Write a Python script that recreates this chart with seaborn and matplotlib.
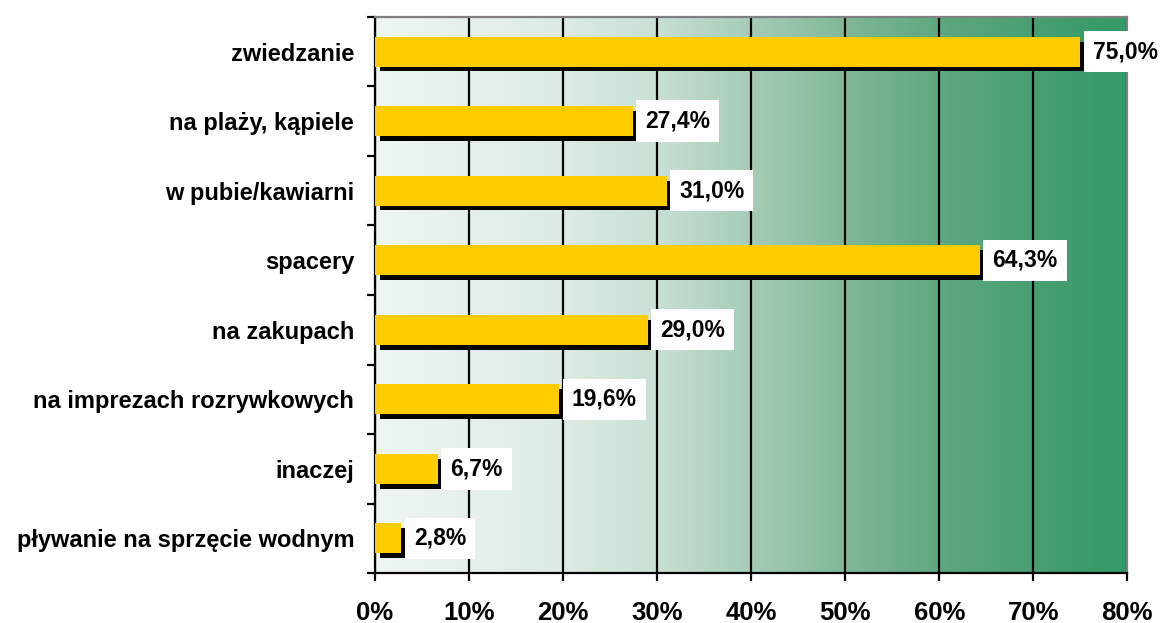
import numpy as np
import pandas as pd
import seaborn as sns
import matplotlib.pyplot as plt
from matplotlib import patheffects as pe
from matplotlib.colors import LinearSegmentedColormap

# data
categories = ["zwiedzanie", "na plaży, kąpiele", "w pubie/kawiarni", "spacery",
              "na zakupach", "na imprezach rozrywkowych", "inaczej",
              "pływanie na sprzęcie wodnym"]
values = [75.0, 27.4, 31.0, 64.3, 29.0, 19.6, 6.7, 2.8]
x_ticks = [0, 10, 20, 30, 40, 50, 60, 70, 80]

df = pd.DataFrame({"activity": categories, "share": values})

sns.set_style("white")
plt.rcParams["font.family"] = ["Liberation Sans", "DejaVu Sans"]
plt.rcParams["text.color"] = "black"
plt.rcParams["xtick.color"] = "black"
plt.rcParams["ytick.color"] = "black"

fig = plt.figure(figsize=(11.61, 6.23), dpi=100)
ax = fig.add_axes([0.323, 0.080, 0.648, 0.893])

# green gradient in the plot area
bg = LinearSegmentedColormap.from_list("bg", [
    (0.0, "#EEF6F2"), (0.125, "#E6F0EA"), (0.25, "#DDEBE3"), (0.375, "#C8E0D3"),
    (0.5, "#A5CCB7"), (0.625, "#80B898"), (0.75, "#5FA77F"), (0.875, "#489F72"),
    (1.0, "#339966")])
ax.imshow(np.linspace(0, 1, 256).reshape(1, -1), cmap=bg, aspect="auto",
          extent=[0, 80, 7.5, -0.5], zorder=0)

sns.barplot(data=df, x="share", y="activity", color="#FFCC00", saturation=1,
            width=0.43, ax=ax, zorder=3)
for bar in ax.patches:
    bar.set_edgecolor("none")
    bar.set_path_effects([pe.SimplePatchShadow(offset=(3.3, -3.5), shadow_rgbFace="black", alpha=1),
                          pe.Normal()])

# value labels in white boxes
for i, v in enumerate(values):
    ax.annotate(f"{v:.1f}".replace(".", ",") + "%", xy=(v, i), xytext=(9, 0),
                textcoords="offset points", ha="left", va="center",
                fontsize=16.5, fontweight="bold", color="black", zorder=5,
                bbox=dict(boxstyle="square,pad=0.4", fc="white", ec="none"))

ax.set_xlim(0, 80)
ax.set_ylim(7.5, -0.5)
ax.set_xticks(x_ticks)
ax.set_xticklabels([f"{t}%" for t in x_ticks], fontsize=18.5, fontweight="bold")
ax.set_yticks(range(len(categories)))
ax.set_yticklabels(categories, fontsize=17, fontweight="bold")
ax.set_yticks(np.arange(-0.5, len(categories), 1), minor=True)
ax.set_xlabel("")
ax.set_ylabel("")

ax.xaxis.grid(True, color="black", lw=1.6)
ax.set_axisbelow(True)
ax.tick_params(axis="x", which="major", length=6, width=1.6, color="black",
               direction="out", pad=14, bottom=True)
ax.tick_params(axis="y", which="major", length=0, pad=15)
ax.tick_params(axis="y", which="minor", length=6, width=1.6, color="black",
               direction="out", left=True)

for side in ["left", "bottom"]:
    ax.spines[side].set_color("black")
    ax.spines[side].set_linewidth(1.6)
for side in ["top", "right"]:
    ax.spines[side].set_color("#808080")
    ax.spines[side].set_linewidth(1.6)

fig.savefig("out.png", dpi=100)
